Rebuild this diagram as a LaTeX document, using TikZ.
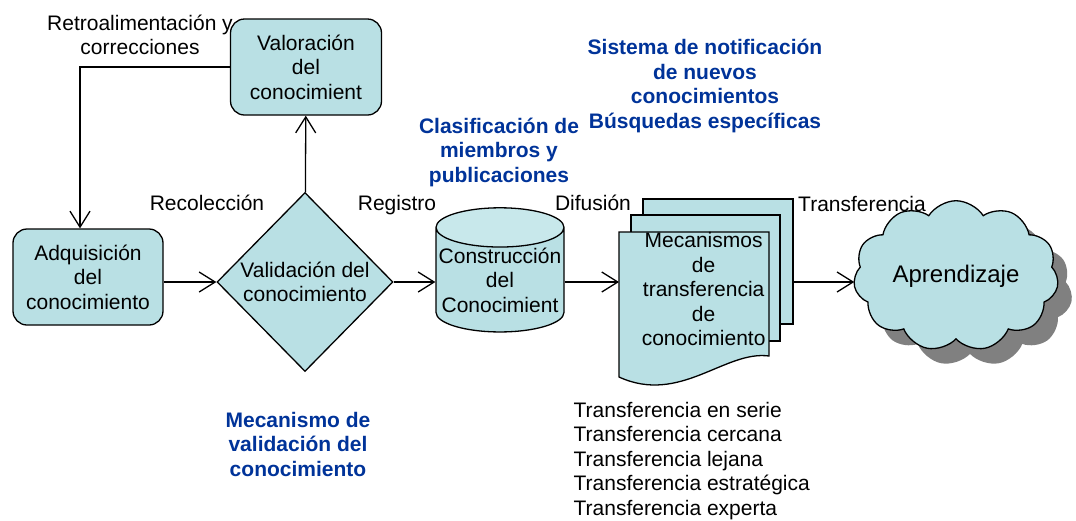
\documentclass[tikz,border=0pt]{standalone}
\usepackage{fontspec}
\setmainfont{Liberation Sans}
\usetikzlibrary{arrows.meta,shapes.geometric,shapes.symbols,shadows}
\definecolor{boxfill}{RGB}{185,224,228}
\definecolor{topfill}{RGB}{200,232,235}
\definecolor{titleblue}{RGB}{0,51,153}
\definecolor{shadowgray}{RGB}{128,128,128}

\begin{document}
\begin{tikzpicture}[x=1pt, y=-1pt, line width=1.3pt,
    font=\fontsize{21}{24.5}\selectfont,
    >={Straight Barb[length=16pt,width=20pt]},
    box/.style={draw, fill=boxfill, rounded corners=14pt, inner sep=0pt, align=center},
    docbox/.style={draw, fill=boxfill, inner sep=0pt},
    note/.style={align=center, inner sep=0pt},
    bluenote/.style={note, text=titleblue, font=\fontsize{21}{24.5}\selectfont\bfseries}]
  \useasboundingbox (0,0) rectangle (1076,520);

  \draw (88,277) node[box, minimum width=150pt, minimum height=96pt] (adq) {Adquisición\\del\\conocimiento};
  \draw (306,67) node[box, minimum width=151pt, minimum height=96pt] (valor) {Valoración\\del\\conocimient};
  \draw (305,282) node[diamond, draw, fill=boxfill, aspect=1, inner sep=0pt,
      minimum width=176pt, minimum height=179pt, align=center] (val) {Validación del\\conocimiento};
  \draw (500,280) node[cylinder, shape border rotate=90, draw, aspect=0.32,
      cylinder uses custom fill, cylinder body fill=boxfill, cylinder end fill=topfill,
      minimum width=128pt, minimum height=121pt, inner sep=0pt, align=center] (constr) {Construcción\\del\\Conocimient};

  % pila de documentos
  \draw (718,261.5) node[docbox, minimum width=150pt, minimum height=125pt] (doca) {};
  \draw (705.5,278) node[docbox, minimum width=149pt, minimum height=126pt] (docb) {};
  \draw[fill=boxfill] (619,232) -- (769,232) -- (769,356)
      .. controls (725,350) and (680,405) .. (619,377) -- cycle;
  \draw (619,289) node[note, anchor=west, text width=168pt] (mec) {Mecanismos\\de\\transferencia\\de\\conocimiento};

  \draw (956,276) node[cloud, draw, fill=boxfill, cloud puffs=11, cloud puff arc=115, aspect=1.4,
      minimum width=205pt, minimum height=150pt, inner sep=0pt, font=\fontsize{24}{28}\selectfont,
      drop shadow={shadow xshift=14pt, shadow yshift=-15pt, fill=shadowgray, opacity=1}] (apr) {Aprendizaje};

  \draw (140,35) node[note] (retro) {Retroalimentación y\\correcciones};
  \draw (207,203) node[note] (recol) {Recolección};
  \draw (397,205) node[note] (reg) {Registro};
  \draw (593,203) node[note] (dif) {Difusión};
  \draw (862,204) node[note] (transf) {Transferencia};
  \draw (499,152) node[bluenote] (clasif) {Clasificación de\\miembros y\\publicaciones};
  \draw (705,86) node[bluenote] (notif) {Sistema de notificación\\de nuevos\\conocimientos\\Búsquedas específicas};
  \draw (298,444) node[bluenote] (mecval) {Mecanismo de\\validación del\\conocimiento};
  \draw (573,461) node[note, anchor=west, align=left] (tipos) {Transferencia en serie\\Transferencia cercana\\Transferencia lejana\\Transferencia estratégica\\Transferencia experta};

  \draw[->] (adq.east |- val) -- (val);
  \draw[->] (val) -- (constr.west |- val);
  \draw[->] (constr.east |- val) -- (mec.west |- val);
  \draw[->] (doca.east |- val) -- (apr.west |- val);
  \draw[->] (val) -- (valor);
  \draw[->] (valor.west) -| ([xshift=-8pt]adq.north);
\end{tikzpicture}
\end{document}
